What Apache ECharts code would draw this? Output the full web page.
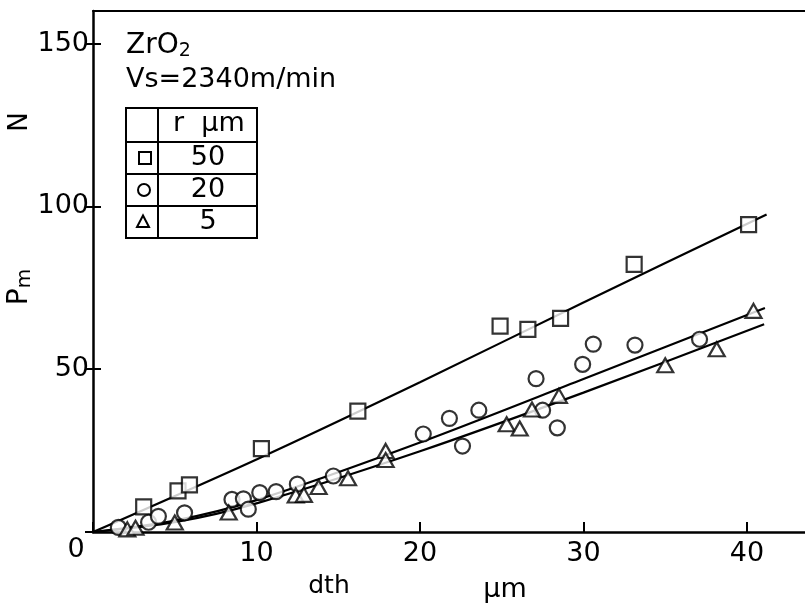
<!DOCTYPE html>
<html>
<head>
<meta charset="utf-8">
<script src="https://cdn.jsdelivr.net/npm/echarts@6/dist/echarts.min.js"></script>
<style>
html,body{margin:0;padding:0;background:#fff;}
#chart{width:805px;height:607px;}
</style>
</head>
<body>
<div id="chart"></div>
<script>
// ---- data ----
var squareX = [3.1, 5.2, 5.9, 10.3, 16.2, 24.9, 26.6, 28.6, 33.1, 40.1];
var squareY = [7.7, 12.6, 14.5, 25.6, 37.1, 63.2, 62.2, 65.6, 82.2, 94.4];

var circleX = [1.55, 3.4, 4.0, 5.6, 8.5, 9.2, 9.5, 10.2, 11.2, 12.5, 14.7, 20.2, 21.8, 22.6, 23.6, 27.1, 27.5, 28.4, 29.95, 30.6, 33.15, 37.1];
var circleY = [1.4, 3.0, 4.8, 5.9, 10.0, 10.2, 7.0, 12.1, 12.4, 14.7, 17.2, 30.1, 34.9, 26.4, 37.4, 47.1, 37.4, 32.0, 51.5, 57.7, 57.4, 59.2];

var triX = [2.1, 2.6, 5.0, 8.3, 12.4, 12.9, 13.8, 15.6, 17.9, 17.9, 25.3, 26.1, 26.85, 28.5, 35.0, 38.15, 40.4];
var triY = [0.8, 1.3, 2.9, 6.0, 11.2, 11.4, 13.8, 16.5, 24.9, 22.1, 33.1, 31.8, 37.6, 41.8, 51.2, 56.1, 67.9];

var fit50X = [0, 10, 20, 30, 41.2];
var fit50Y = [0, 22.3, 46, 70.5, 97.5];
var fitUpX = [0, 5, 10, 20, 30, 41.1];
var fitUpY = [0, 3.5, 9.8, 27.5, 47, 68.8];
var fitLowX = [0, 5, 10, 20, 30, 41.05];
var fitLowY = [0, 3, 8.8, 24.8, 42.8, 63.8];

var xTicks = [10, 20, 30, 40];
var yTicks = [50, 100, 150];
var legendRows = ['50', '20', '5'];

function pairs(xs, ys) { return xs.map(function (x, i) { return [x, ys[i]]; }); }

var FONT = 'DejaVu Sans';
var chart = echarts.init(document.getElementById('chart'), null, {renderer: 'canvas'});

var markerStyle = {color: '#fff', borderColor: '#000', borderWidth: 2.2};
var lineSeries = function (xs, ys) {
  return {type: 'line', data: pairs(xs, ys), showSymbol: false, symbol: 'none', smooth: 0.3,
    lineStyle: {color: '#000', width: 2.2}, z: 2, silent: true};
};

// table geometry
var tL = 126, tR = 257, tT = 108, tB = 238, tC = 158;
var rowLines = [142, 174, 206];
var graphics = [];
graphics.push({type: 'rect', shape: {x: tL, y: tT, width: tR - tL, height: tB - tT},
  style: {fill: '#fff', stroke: '#000', lineWidth: 2}, z: 10});
graphics.push({type: 'line', shape: {x1: tC, y1: tT, x2: tC, y2: tB}, style: {stroke: '#000', lineWidth: 2}, z: 11});
rowLines.forEach(function (y) {
  graphics.push({type: 'line', shape: {x1: tL, y1: y, x2: tR, y2: y}, style: {stroke: '#000', lineWidth: 2}, z: 11});
});
graphics.push({type: 'text', left: 173, top: 110, z: 12,
  style: {text: 'r  μm', font: '27px "' + FONT + '"', fill: '#000'}});
var rowCenters = [158, 190, 222];
legendRows.forEach(function (t, i) {
  graphics.push({type: 'text', z: 12, style: {text: t, x: 208, y: rowCenters[i], font: '27px "' + FONT + '"', fill: '#000', align: 'center', verticalAlign: 'middle'}});
});
// legend symbols
graphics.push({type: 'rect', shape: {x: 139, y: 152, width: 12, height: 12}, style: {fill: '#fff', stroke: '#000', lineWidth: 2}, z: 12});
graphics.push({type: 'circle', shape: {cx: 144, cy: 190, r: 6}, style: {fill: '#fff', stroke: '#000', lineWidth: 2}, z: 12});
graphics.push({type: 'polygon', shape: {points: [[143, 215.5], [137, 227], [149, 227]]}, style: {fill: '#fff', stroke: '#000', lineWidth: 2}, z: 12});

// title texts
graphics.push({type: 'text', left: 126, top: 32, z: 12,
  style: {text: '{a|ZrO}{b|2}', rich: {a: {fontSize: 28, fontFamily: FONT, fill: '#000'}, b: {fontSize: 19, fontFamily: FONT, fill: '#000', padding: [10, 0, 0, 0]}}}});
graphics.push({type: 'text', left: 126, top: 66, z: 12,
  style: {text: 'Vs=2340m/min', font: '27px "' + FONT + '"', fill: '#000'}});

// axis names
graphics.push({type: 'text', z: 12, rotation: Math.PI / 2, x: 20, y: 122,
  style: {text: 'N', font: '26px "' + FONT + '"', fill: '#000', align: 'center', verticalAlign: 'middle'}});
graphics.push({type: 'text', z: 12, rotation: Math.PI / 2, x: 20, y: 287,
  style: {text: '{p|P}{m|m}', rich: {p: {fontSize: 28, fontFamily: FONT, fill: '#000'}, m: {fontSize: 20, fontFamily: FONT, fill: '#000', padding: [10, 0, 0, 0]}}, align: 'center', verticalAlign: 'middle'}});
graphics.push({type: 'text', z: 12, x: 329, y: 586,
  style: {text: 'dth', font: '25px "' + FONT + '"', fill: '#000', align: 'center', verticalAlign: 'middle'}});
graphics.push({type: 'text', z: 12, x: 505, y: 590,
  style: {text: 'μm', font: '27px "' + FONT + '"', fill: '#000', align: 'center', verticalAlign: 'middle'}});
// corner zero
graphics.push({type: 'text', z: 12, x: 76, y: 550,
  style: {text: '0', font: '27px "' + FONT + '"', fill: '#000', align: 'center', verticalAlign: 'middle'}});

var gridRect = {left: 93, top: 11, width: 712, height: 521, containLabel: false};

var option = {
  animation: false,
  backgroundColor: '#fff',
  grid: [Object.assign({}, gridRect), Object.assign({}, gridRect)],
  xAxis: [{
    gridIndex: 0, type: 'value', min: 0, max: 43.55, interval: 10, position: 'bottom',
    axisLine: {show: true, onZero: false, lineStyle: {color: '#000', width: 2.5}},
    axisTick: {show: true, inside: true, length: 10, lineStyle: {color: '#000', width: 2}},
    axisLabel: {show: true, margin: 8, color: '#000', fontSize: 27, fontFamily: FONT, showMaxLabel: false,
      formatter: function (v) { return xTicks.indexOf(v) >= 0 ? String(v) : ''; }},
    splitLine: {show: false}
  }, {
    gridIndex: 0, type: 'value', min: 0, max: 43.55, position: 'top',
    axisLine: {show: true, onZero: false, lineStyle: {color: '#000', width: 2}},
    axisTick: {show: false}, axisLabel: {show: false}, splitLine: {show: false}
  }, {
    gridIndex: 1, type: 'value', min: 0, max: 43.55, show: false
  }],
  yAxis: [{
    gridIndex: 0, type: 'value', min: 0, max: 160, interval: 50, position: 'left',
    axisLine: {show: true, onZero: false, lineStyle: {color: '#000', width: 2.5}},
    axisTick: {show: true, inside: false, length: 8, lineStyle: {color: '#000', width: 2}},
    axisLabel: {show: true, margin: 4, color: '#000', fontSize: 27, fontFamily: FONT, showMaxLabel: false,
      formatter: function (v) { return yTicks.indexOf(v) >= 0 ? String(v) : ''; }},
    splitLine: {show: false}
  }, {
    gridIndex: 1, type: 'value', min: 0, max: 160, interval: 50, position: 'left',
    axisLine: {show: false, onZero: false},
    axisTick: {show: true, inside: true, length: 8, lineStyle: {color: '#000', width: 2}},
    axisLabel: {show: false}, splitLine: {show: false}
  }],
  series: [
    lineSeries(fit50X, fit50Y),
    lineSeries(fitUpX, fitUpY),
    lineSeries(fitLowX, fitLowY),
    {type: 'scatter', name: '50', data: pairs(squareX, squareY), symbol: 'rect', symbolSize: 15, itemStyle: markerStyle, z: 3},
    {type: 'scatter', name: '20', data: pairs(circleX, circleY), symbol: 'circle', symbolSize: 15, itemStyle: markerStyle, z: 3},
    {type: 'scatter', name: '5', data: pairs(triX, triY), symbol: 'triangle', symbolSize: [16, 14], itemStyle: markerStyle, z: 4}
  ],
  graphic: graphics
};
chart.setOption(option);
</script>
</body>
</html>
